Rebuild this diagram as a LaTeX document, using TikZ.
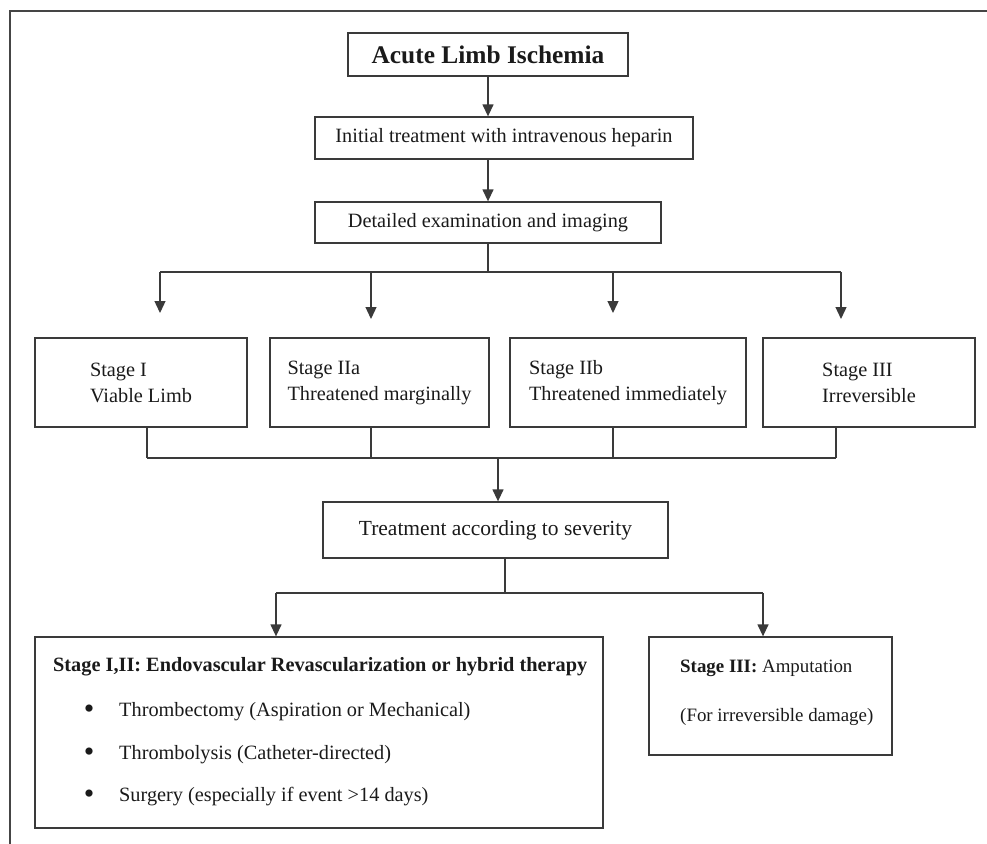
\documentclass[tikz,border=0pt]{standalone}
\usepackage{fontspec}
\setmainfont{Liberation Serif}
\usetikzlibrary{arrows.meta}
\definecolor{linec}{HTML}{3A3A3A}
\definecolor{framec}{HTML}{454545}
\definecolor{txtc}{HTML}{1A1A1A}
\begin{document}
\begin{tikzpicture}[x=1pt,y=-1pt,
  box/.style={draw=linec, line width=1.3pt, rectangle, inner sep=0pt, text=txtc,
    font=\fontsize{20.3}{26}\selectfont, align=left},
  txt/.style={inner sep=0pt, anchor=west, text=txtc, font=\fontsize{20.3}{24}\selectfont},
  smalltxt/.style={txt, font=\fontsize{18.9}{23}\selectfont},
  bul/.style={inner sep=0pt, anchor=center, text=txtc, font=\fontsize{30}{30}\selectfont},
  arr/.style={draw=linec, line width=1.3pt, -{Triangle[width=11pt,length=12pt]}},
  ln/.style={draw=linec, line width=1.3pt},
  frame/.style={draw=framec, line width=2pt}]
\useasboundingbox (0,0) rectangle (987,843);
% outer frame (top and left edges only)
\coordinate (fTL) at (9.5,11);
\coordinate (fTR) at (990,11);
\coordinate (fBL) at (9.5,846);
\draw[frame] (fTR) -- (fTL) -- (fBL);

% top chain
\node[box, minimum width=280pt, minimum height=43pt, font=\fontsize{25.4}{30}\selectfont\bfseries]
  (title) at (488,54.5) {Acute Limb Ischemia};
\node[box, minimum width=378pt, minimum height=42pt] (heparin) at (504,138)
  {Initial treatment with intravenous heparin};
\node[box, minimum width=346pt, minimum height=41pt] (exam) at (488,222.5)
  {Detailed examination and imaging};

\draw[arr] (title.south) -- (title.south |- heparin.north);
\draw[arr] (exam.north |- heparin.south) -- (exam.north);

% stage boxes
\node[box, minimum width=212pt, minimum height=89pt] (sI)   at (141,382.5)   {Stage I\\Viable Limb};
\node[box, minimum width=219pt, minimum height=89pt] (sIIa) at (379.5,382.5) {Stage IIa\\Threatened marginally};
\node[box, minimum width=236pt, minimum height=89pt] (sIIb) at (628,382.5)   {Stage IIb\\Threatened immediately};
\node[box, minimum width=212pt, minimum height=89pt] (sIII) at (869,382.5)   {Stage III\\Irreversible};

% distribution line and arrows
\coordinate (hL) at (160,272);
\coordinate (hR) at (841,272);
\coordinate (tI)   at (160,313);
\coordinate (tIIa) at (371,319);
\coordinate (tIIb) at (613,313);
\coordinate (tIII) at (841,319);
\draw[ln] (exam.south) -- (exam.south |- hL);
\draw[ln] (hL) -- (hR);
\draw[arr] (hL) -- (tI);
\draw[arr] (tIIa |- hL) -- (tIIa);
\draw[arr] (tIIb |- hL) -- (tIIb);
\draw[arr] (hR) -- (tIII);

% collecting line
\coordinate (bI)   at (147,458);
\coordinate (bIIa) at (371,458);
\coordinate (bIIb) at (613,458);
\coordinate (bIII) at (836,458);
\coordinate (m2)   at (498,458);
\draw[ln] (bI |- sI.south) -- (bI);
\draw[ln] (bIIa |- sIIa.south) -- (bIIa);
\draw[ln] (bIIb |- sIIb.south) -- (bIIb);
\draw[ln] (bIII |- sIII.south) -- (bIII);
\draw[ln] (bI) -- (bIII);

\node[box, minimum width=345pt, minimum height=56pt, font=\fontsize{21.5}{26}\selectfont]
  (treat) at (495.5,530) {Treatment according to severity};
\draw[arr] (m2) -- (m2 |- treat.north);

% bottom boxes
\node[box, minimum width=568pt, minimum height=191pt] (endo) at (319,732.5) {};
\node[box, minimum width=243pt, minimum height=118pt] (amp)  at (770.5,696) {};

\coordinate (m3) at (505,593);
\coordinate (cL) at (276,593);
\coordinate (cR) at (763,593);
\draw[ln] (m3 |- treat.south) -- (m3);
\draw[ln] (cL) -- (cR);
\draw[arr] (cL) -- (cL |- endo.north);
\draw[arr] (cR) -- (cR |- amp.north);

% text of the left bottom box
\node[txt] (endoT) at (53,667) {\textbf{Stage I,II: Endovascular Revascularization or hybrid therapy}};
\node[bul] (b1) at (89,712) {\textbullet};
\node[bul] (b2) at (89,755) {\textbullet};
\node[bul] (b3) at (89,797) {\textbullet};
\node[txt] (l1) at (119,712) {Thrombectomy (Aspiration or Mechanical)};
\node[txt] (l2) at (119,755) {Thrombolysis (Catheter-directed)};
\node[txt] (l3) at (119,797) {Surgery (especially if event >14 days)};

% text of the right bottom box
\node[smalltxt] (ampT) at (680,668) {\textbf{Stage III:} Amputation};
\node[smalltxt] (ampS) at (680,717) {(For irreversible damage)};
\end{tikzpicture}
\end{document}
